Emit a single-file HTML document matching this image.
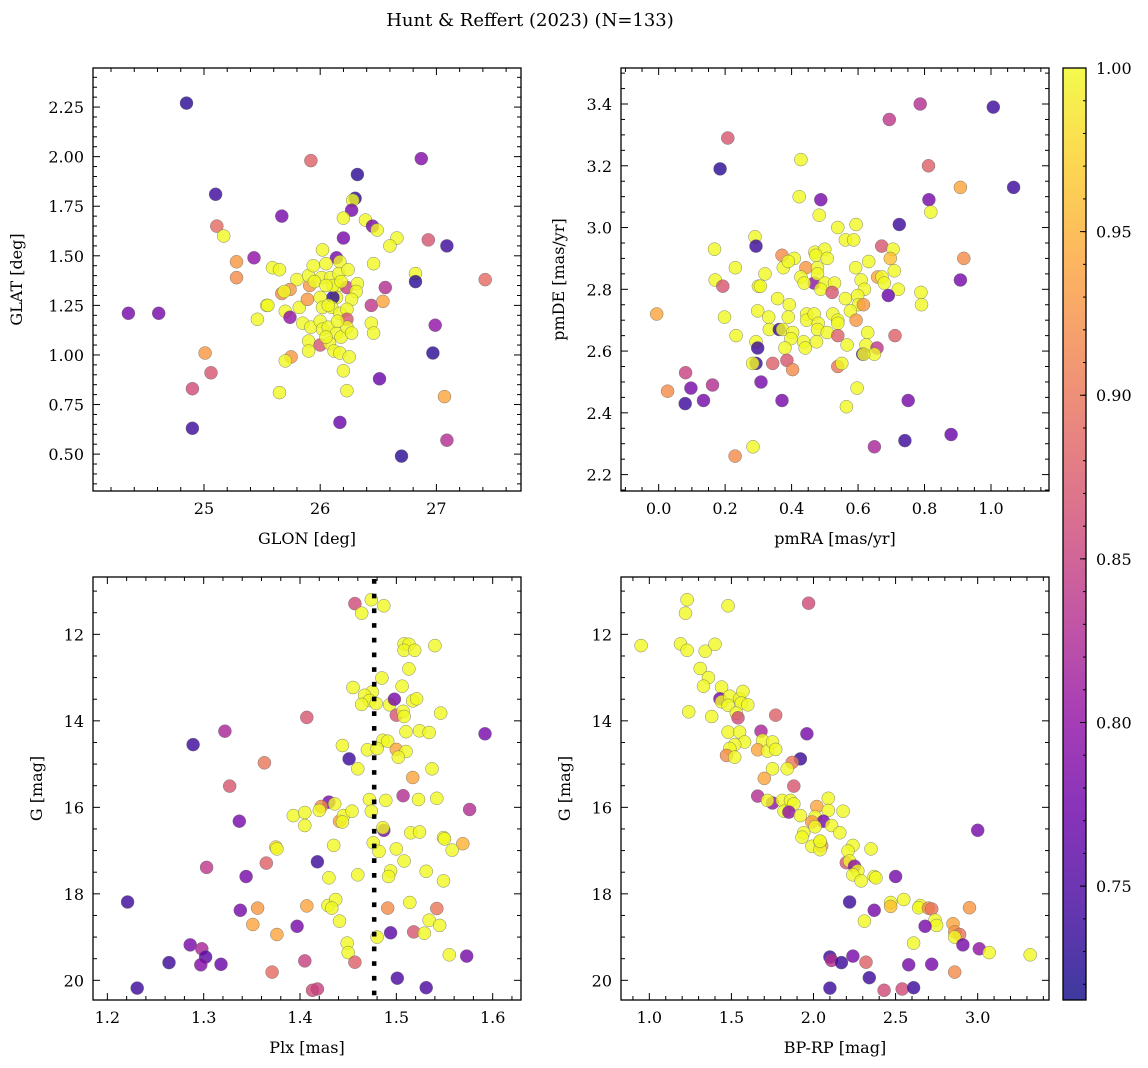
<!DOCTYPE html>
<html><head><meta charset="utf-8"><title>Hunt & Reffert (2023)</title>
<style>
html,body{margin:0;padding:0;background:#fff;}
svg{display:block;font-family:"DejaVu Serif","Liberation Serif",serif;}
</style></head>
<body>
<svg id="fig" width="1148" height="1068" viewBox="0 0 1148 1068" xmlns="http://www.w3.org/2000/svg">
<defs>
<linearGradient id="plasma" x1="0" y1="1" x2="0" y2="0">
<stop offset="0" stop-color="#0d0887"/><stop offset="0.1" stop-color="#41049d"/><stop offset="0.2" stop-color="#6a00a8"/><stop offset="0.3" stop-color="#8f0da4"/><stop offset="0.4" stop-color="#b12a90"/><stop offset="0.5" stop-color="#cc4778"/><stop offset="0.6" stop-color="#e16462"/><stop offset="0.7" stop-color="#f2844b"/><stop offset="0.8" stop-color="#fca636"/><stop offset="0.9" stop-color="#fcce25"/><stop offset="1" stop-color="#f0f921"/>
</linearGradient>
</defs>
<text x="530" y="26" font-size="18" text-anchor="middle">Hunt &amp; Reffert (2023) (N=133)</text>
</svg>
<script>
// ---- Panel 1: GLON vs GLAT ----
const p1Glon=[24.85,25.10,25.67,25.92,26.32,26.87,26.30,26.28,26.27,26.20,26.39,26.45,26.49,26.20,26.66,26.60,26.93,27.09,25.11,25.17,25.28,25.28,25.43,24.35,24.61,25.59,25.65,25.80,25.67,25.74,25.69,25.54,25.55,25.46,25.70,25.74,25.82,25.89,25.91,26.02,26.14,26.17,25.90,25.94,26.05,26.01,26.09,26.16,26.24,26.15,26.23,26.32,26.31,26.14,26.27,26.11,26.00,26.02,26.10,26.07,26.17,26.23,26.23,25.85,25.92,26.00,26.02,26.07,26.14,26.18,26.23,26.27,25.90,26.00,26.08,25.90,26.12,26.17,26.25,25.75,25.70,26.20,25.65,26.23,26.46,26.56,26.44,26.54,26.44,26.46,26.82,26.82,27.42,26.99,26.97,26.51,27.07,27.09,26.17,26.70,24.90,25.01,25.06,24.90,26.05,26.15,25.95,26.11,26.18,26.05];
const p1Glat=[2.27,1.81,1.70,1.98,1.91,1.99,1.79,1.78,1.73,1.69,1.68,1.65,1.63,1.59,1.59,1.55,1.58,1.55,1.65,1.60,1.47,1.39,1.49,1.21,1.21,1.44,1.43,1.38,1.31,1.33,1.32,1.25,1.25,1.18,1.22,1.19,1.24,1.28,1.35,1.53,1.49,1.47,1.40,1.45,1.46,1.39,1.39,1.41,1.43,1.35,1.34,1.36,1.32,1.29,1.28,1.29,1.29,1.24,1.24,1.25,1.21,1.23,1.18,1.16,1.14,1.17,1.13,1.14,1.11,1.09,1.14,1.11,1.07,1.05,1.06,1.02,1.02,1.01,0.99,0.99,0.97,0.92,0.81,0.82,1.46,1.34,1.25,1.27,1.16,1.11,1.41,1.37,1.38,1.15,1.01,0.88,0.79,0.57,0.66,0.49,0.63,1.01,0.91,0.83,1.09,1.17,1.37,1.35,1.37,1.35];
const p1Prob=[0.73,0.74,0.78,0.88,0.73,0.79,0.73,1,0.78,1,1,0.78,1,0.78,1,1,0.87,0.74,0.89,1,0.93,0.92,0.80,0.78,0.78,1,1,1,0.92,0.93,1,1,1,1,1,0.80,1,0.93,0.93,1,0.78,1,1,1,1,1,1,1,1,1,0.85,1,1,1,1,0.73,1,1,1,1,1,1,0.87,1,1,1,1,1,1,1,1,1,1,0.87,1,1,1,1,1,0.93,1,1,1,1,1,0.83,0.84,0.94,1,1,1,0.73,0.89,0.80,0.73,0.77,0.94,0.83,0.77,0.73,0.74,0.93,0.87,0.86,1,1,1,1,1,1];

// ---- Panel 2: pmRA vs pmDE ----
const p2PmRA=[0.208,0.185,0.428,0.423,0.488,0.483,0.694,0.787,1.007,0.812,0.908,1.068,0.813,0.819,0.724,0.539,0.594,0.562,0.587,0.290,0.293,0.168,0.671,0.705,0.697,0.918,0.371,0.408,0.470,0.500,0.473,0.507,0.231,0.375,0.390,0.443,0.478,0.320,0.170,0.193,0.300,0.306,0.428,0.468,0.438,0.478,0.500,0.529,0.488,0.522,0.593,0.632,0.609,0.619,0.659,0.672,0.679,0.709,0.721,0.691,0.789,0.791,0.908,-0.006,0.198,0.298,0.358,0.393,0.331,0.390,0.445,0.445,0.468,0.562,0.599,0.601,0.616,0.577,0.524,0.539,0.539,0.594,0.480,0.478,0.507,0.233,0.333,0.363,0.373,0.403,0.398,0.629,0.711,0.539,0.567,0.293,0.298,0.380,0.436,0.441,0.475,0.624,0.614,0.657,0.649,0.617,0.293,0.283,0.343,0.386,0.403,0.539,0.551,0.081,0.027,0.097,0.162,0.135,0.080,0.308,0.371,0.597,0.565,0.751,0.880,0.741,0.649,0.284,0.230];
const p2PmDE=[3.29,3.19,3.22,3.10,3.09,3.04,3.35,3.40,3.39,3.20,3.13,3.13,3.09,3.05,3.01,3.00,3.01,2.96,2.96,2.97,2.94,2.93,2.94,2.93,2.90,2.90,2.91,2.90,2.92,2.93,2.91,2.90,2.87,2.87,2.89,2.87,2.87,2.85,2.83,2.81,2.81,2.81,2.84,2.82,2.82,2.85,2.82,2.82,2.80,2.79,2.87,2.89,2.83,2.80,2.84,2.84,2.82,2.86,2.80,2.78,2.79,2.75,2.83,2.72,2.71,2.73,2.77,2.75,2.71,2.71,2.72,2.70,2.72,2.77,2.78,2.75,2.75,2.73,2.72,2.70,2.69,2.70,2.69,2.67,2.66,2.65,2.67,2.67,2.67,2.66,2.64,2.66,2.65,2.65,2.62,2.63,2.61,2.61,2.63,2.61,2.63,2.62,2.59,2.61,2.59,2.59,2.56,2.56,2.56,2.57,2.54,2.55,2.56,2.53,2.47,2.48,2.49,2.44,2.43,2.50,2.44,2.48,2.42,2.44,2.33,2.31,2.29,2.29,2.26];
const p2Prob=[0.87,0.73,1,1,0.78,1,0.84,0.83,0.74,0.88,0.94,0.74,0.78,1,0.74,1,1,1,1,1,0.74,1,0.87,1,0.96,0.92,0.92,1,1,1,1,1,1,1,1,0.93,1,1,1,0.87,1,1,1,0.80,1,1,1,1,1,0.87,1,1,1,1,0.94,1,1,1,1,0.77,1,1,0.78,0.94,1,1,1,1,1,1,1,1,1,1,1,1,0.93,1,1,1,1,0.93,1,1,1,1,1,0.74,1,1,1,1,0.88,0.88,1,1,0.74,1,1,1,1,1,0.75,0.84,1,1,0.74,1,0.88,0.87,0.92,0.90,1,0.85,0.92,0.78,0.83,0.78,0.74,0.78,0.78,1,1,0.78,0.77,0.74,0.82,1,0.92];

// ---- Panel 3: Plx vs G ----
const p3Plx=[1.457,1.474,1.487,1.464,1.508,1.513,1.508,1.519,1.540,1.513,1.485,1.506,1.455,1.475,1.467,1.472,1.464,1.479,1.493,1.498,1.517,1.521,1.500,1.507,1.508,1.546,1.407,1.322,1.289,1.592,1.510,1.524,1.534,1.486,1.491,1.444,1.470,1.480,1.500,1.510,1.502,1.451,1.363,1.460,1.537,1.517,1.327,1.507,1.472,1.489,1.523,1.542,1.576,1.430,1.422,1.436,1.420,1.393,1.405,1.405,1.441,1.445,1.444,1.454,1.474,1.337,1.487,1.486,1.515,1.524,1.549,1.550,1.569,1.558,1.375,1.376,1.435,1.476,1.482,1.500,1.508,1.303,1.365,1.418,1.344,1.430,1.460,1.494,1.492,1.531,1.549,1.221,1.338,1.356,1.407,1.429,1.437,1.433,1.441,1.491,1.514,1.542,1.534,1.545,1.351,1.376,1.397,1.494,1.518,1.529,1.480,1.286,1.298,1.302,1.297,1.264,1.318,1.449,1.450,1.457,1.405,1.371,1.555,1.573,1.501,1.531,1.231,1.413,1.418];
const p3G=[11.29,11.20,11.34,11.51,12.22,12.23,12.37,12.37,12.26,12.80,13.01,13.20,13.23,13.33,13.41,13.53,13.62,13.60,13.63,13.50,13.54,13.49,13.87,13.78,13.90,13.82,13.92,14.24,14.55,14.30,14.25,14.23,14.27,14.45,14.47,14.57,14.67,14.64,14.66,14.71,14.84,14.88,14.97,15.11,15.11,15.31,15.51,15.73,15.82,15.84,15.82,15.79,16.05,15.88,15.98,15.92,16.07,16.19,16.12,16.42,16.32,16.19,16.34,16.09,16.09,16.32,16.53,16.47,16.59,16.57,16.70,16.73,16.84,16.99,16.92,16.96,16.88,16.82,17.02,16.96,17.24,17.39,17.29,17.26,17.60,17.63,17.56,17.47,17.60,17.48,17.70,18.19,18.38,18.33,18.28,18.27,18.13,18.33,18.63,18.33,18.20,18.34,18.61,18.73,18.71,18.94,18.75,18.90,18.88,18.91,19.00,19.18,19.27,19.46,19.64,19.59,19.63,19.14,19.36,19.58,19.55,19.81,19.41,19.44,19.95,20.17,20.18,20.23,20.20];
const p3Prob=[0.86,1,1,1,1,1,1,1,1,1,1,1,1,1,1,1,1,1,1,0.78,1,1,0.87,1,1,1,0.87,0.82,0.74,0.78,1,1,1,1,1,1,1,1,0.94,1,1,0.74,0.90,1,1,0.94,0.87,0.83,1,1,1,1,0.83,0.78,0.92,1,1,1,1,1,0.94,1,1,1,1,0.78,0.78,1,1,1,1,1,0.95,1,0.98,1,1,1,1,1,1,0.84,0.88,0.74,0.78,1,1,1,1,1,1,0.74,0.78,0.93,0.94,1,1,1,1,0.92,1,0.90,1,1,0.94,0.94,0.78,0.76,0.87,1,1,0.78,0.82,0.76,0.79,0.74,0.77,1,1,0.88,0.85,0.89,1,0.78,0.75,0.75,0.74,0.86,0.85];

// ---- Panel 4: BP-RP vs G ----
const p4BpRp=[1.23,1.22,1.48,1.97,0.95,1.19,1.23,1.34,1.40,1.31,1.36,1.33,1.44,1.43,1.44,1.49,1.48,1.55,1.57,1.56,1.60,1.53,1.54,1.24,1.38,1.77,1.68,1.69,1.96,1.48,1.55,1.58,1.52,1.49,1.47,1.52,1.66,1.72,1.75,1.77,1.92,1.87,1.84,1.75,1.70,1.88,1.66,1.75,1.72,1.81,1.86,1.88,1.82,1.85,1.92,2.02,2.09,2.09,2.18,2.01,2.06,1.99,2.01,2.11,2.16,1.94,1.93,1.99,2.05,2.04,2.04,2.04,2.24,2.21,2.35,2.20,2.22,2.25,2.27,2.24,2.29,2.37,2.38,2.50,3.00,2.22,2.37,2.31,2.47,2.47,2.55,2.65,2.64,2.70,2.72,2.95,2.74,2.75,2.68,2.85,2.86,2.89,2.86,2.91,2.61,3.01,3.07,3.32,2.10,2.11,2.17,2.24,2.32,2.58,2.72,2.86,2.34,2.10,2.43,2.54,2.61];
const p4G=[11.20,11.51,11.34,11.28,12.26,12.22,12.37,12.39,12.23,12.79,13.00,13.20,13.22,13.49,13.56,13.43,13.64,13.49,13.32,13.59,13.63,13.82,13.93,13.79,13.90,13.87,14.24,14.45,14.30,14.26,14.26,14.49,14.55,14.64,14.80,14.84,14.67,14.70,14.49,14.66,14.88,14.96,15.11,15.11,15.33,15.51,15.74,15.90,15.84,15.84,15.84,15.92,16.09,16.11,16.19,15.98,15.79,16.07,16.09,16.22,16.32,16.34,16.45,16.42,16.59,16.59,16.69,16.90,16.89,16.80,16.98,16.78,16.88,17.01,16.96,17.28,17.24,17.36,17.47,17.56,17.70,17.60,17.63,17.60,16.53,18.19,18.38,18.63,18.20,18.29,18.13,18.27,18.32,18.33,18.35,18.32,18.61,18.73,18.75,18.69,18.88,18.94,19.00,19.18,19.14,19.27,19.36,19.41,19.46,19.54,19.59,19.44,19.58,19.64,19.63,19.81,19.94,20.18,20.23,20.20,20.17];
const p4Prob=[1,1,1,0.86,1,1,1,1,1,1,1,1,1,0.78,1,1,1,1,1,1,1,1,0.86,1,1,0.88,0.82,1,0.78,1,1,1,1,1,0.92,1,0.94,1,1,1,0.74,0.90,1,1,0.94,0.87,0.83,0.80,1,1,1,1,1,0.80,1,0.94,1,1,1,1,0.78,0.93,1,1,1,1,1,1,0.94,1,1,1,1,1,1,0.87,1,0.80,1,1,1,1,1,0.78,0.78,0.74,0.78,1,1,0.96,1,1,1,0.92,0.90,0.93,1,1,0.78,0.94,0.93,0.90,1,0.78,1,0.80,1,1,0.74,0.83,0.74,0.78,0.88,0.78,0.78,0.92,0.74,0.74,0.86,0.86,0.74];

// tick arrays
const p1XTicks=[25,26,27], p1YTicks=[0.50,0.75,1.00,1.25,1.50,1.75,2.00,2.25];
const p2XTicks=[0.0,0.2,0.4,0.6,0.8,1.0], p2YTicks=[2.2,2.4,2.6,2.8,3.0,3.2,3.4];
const p3XTicks=[1.2,1.3,1.4,1.5,1.6], gTicks=[12,14,16,18,20];
const p4XTicks=[1.0,1.5,2.0,2.5,3.0];
const cbTicks=[0.75,0.80,0.85,0.90,0.95,1.00];
const plxCut=[1.477];
const probMin=0.7152, probMax=1.0;

const NS='http://www.w3.org/2000/svg';
const svg=document.getElementById('fig');
function mk(tag,attrs,parent){const e=document.createElementNS(NS,tag);for(const k in attrs)e.setAttribute(k,attrs[k]);(parent||svg).appendChild(e);return e;}
const stops=['#0d0887','#41049d','#6a00a8','#8f0da4','#b12a90','#cc4778','#e16462','#f2844b','#fca636','#fcce25','#f0f921'];
function hex(h){return [parseInt(h.substr(1,2),16),parseInt(h.substr(3,2),16),parseInt(h.substr(5,2),16)];}
function plasma(v){let t=(v-probMin)/(probMax-probMin);t=Math.max(0,Math.min(1,t));const f=t*10,i=Math.min(9,Math.floor(f)),r=f-i;const a=hex(stops[i]),b=hex(stops[i+1]);return 'rgb('+a.map((x,k)=>Math.round(x+(b[k]-x)*r)).join(',')+')';}

function panel(cfg){
  const {x0,y0,w,h,xmin,xmax,ymin,ymax,inv,name}=cfg;
  const sx=v=>x0+(v-xmin)/(xmax-xmin)*w;
  const sy=inv?(v=>y0+(v-ymin)/(ymax-ymin)*h):(v=>y0+h-(v-ymin)/(ymax-ymin)*h);
  const g=mk('g',{});
  
  
  const pts=mk('g',{},g);
  
  
  for(let i=0;i<cfg.xs.length;i++){
    const c=mk('circle',{cx:sx(cfg.xs[i]).toFixed(1),cy:sy(cfg.ys[i]).toFixed(1),r:6.5,fill:plasma(cfg.cs[i]),'fill-opacity':0.8,stroke:'#666','stroke-width':0.5,'stroke-opacity':0.8},pts);
    
    
  }
  if(cfg.vline){
    for(const v of cfg.vline){
      const l=mk('line',{x1:sx(v),x2:sx(v),y1:y0+2,y2:y0+h,stroke:'#000','stroke-width':4.5,'stroke-dasharray':'4.7 10'},g);
      
      
    }
  }
  // ticks
  const tk=mk('g',{stroke:'#000','stroke-width':1},g);
  
  
  const xMinorStep=cfg.xMinor, yMinorStep=cfg.yMinor;
  for(let v=Math.ceil(xmin/xMinorStep)*xMinorStep;v<=xmax;v+=xMinorStep){
    const X=sx(v);const major=cfg.xt.some(t=>Math.abs(t-v)<1e-6)||Math.abs(((v/cfg.xMajor)-Math.round(v/cfg.xMajor)))<1e-6;const L=major?7:4;
    mk('line',{x1:X,x2:X,y1:y0+h,y2:y0+h-L},tk);mk('line',{x1:X,x2:X,y1:y0,y2:y0+L},tk);
  }
  for(let v=Math.ceil(ymin/yMinorStep)*yMinorStep;v<=ymax;v+=yMinorStep){
    const Y=sy(v);const major=Math.abs(((v/cfg.yMajor)-Math.round(v/cfg.yMajor)))<1e-6;const L=major?7:4;
    mk('line',{x1:x0,x2:x0+L,y1:Y,y2:Y},tk);mk('line',{x1:x0+w,x2:x0+w-L,y1:Y,y2:Y},tk);
  }
  const fr=mk('rect',{x:x0,y:y0,width:w,height:h,fill:'none',stroke:'#000','stroke-width':1.3},g);
  
  
  const xl=mk('g',{'font-size':16,'text-anchor':'middle'},g);
  
  
  cfg.xt.forEach(v=>{const t=mk('text',{x:sx(v),y:y0+h+23},xl);t.textContent=v.toFixed(cfg.xd);});
  const yl=mk('g',{'font-size':16,'text-anchor':'end'},g);
  
  
  cfg.yt.forEach(v=>{const t=mk('text',{x:x0-9,y:sy(v)+6},yl);t.textContent=v.toFixed(cfg.yd);});
  const xt=mk('text',{x:x0+w/2,y:y0+h+53,'font-size':16,'text-anchor':'middle'},g);
  xt.textContent=cfg.xlabel;
  
  
  const yt=mk('text',{x:0,y:0,'font-size':16,'text-anchor':'middle',transform:'translate('+(cfg.ylx)+','+(y0+h/2)+') rotate(-90)'},g);
  yt.textContent=cfg.ylabel;
  
  
}

panel({name:'glon-glat',x0:93,y0:68,w:428,h:423,xmin:24.045,xmax:27.728,ymin:0.314,ymax:2.447,inv:false,xs:p1Glon,ys:p1Glat,cs:p1Prob,xt:p1XTicks,yt:p1YTicks,xd:0,yd:2,xMinor:0.2,xMajor:1,yMinor:0.05,yMajor:0.25,xlabel:'GLON [deg]',ylabel:'GLAT [deg]',ylx:22});
panel({name:'proper-motion',x0:621,y0:68,w:428,h:423,xmin:-0.1133,xmax:1.1745,ymin:2.1469,ymax:3.5166,inv:false,xs:p2PmRA,ys:p2PmDE,cs:p2Prob,xt:p2XTicks,yt:p2YTicks,xd:1,yd:1,xMinor:0.05,xMajor:0.2,yMinor:0.05,yMajor:0.2,xlabel:'pmRA [mas/yr]',ylabel:'pmDE [mas/yr]',ylx:564});
panel({name:'parallax-mag',x0:93,y0:577,w:428,h:423,xmin:1.1851,xmax:1.6294,ymin:10.674,ymax:20.455,inv:true,xs:p3Plx,ys:p3G,cs:p3Prob,xt:p3XTicks,yt:gTicks,xd:1,yd:0,xMinor:0.02,xMajor:0.1,yMinor:0.5,yMajor:2,xlabel:'Plx [mas]',ylabel:'G [mag]',ylx:42,vline:plxCut});
panel({name:'color-magnitude',x0:621,y0:577,w:428,h:423,xmin:0.8274,xmax:3.4345,ymin:10.674,ymax:20.455,inv:true,xs:p4BpRp,ys:p4G,cs:p4Prob,xt:p4XTicks,yt:gTicks,xd:1,yd:0,xMinor:0.1,xMajor:0.5,yMinor:0.5,yMajor:2,xlabel:'BP-RP [mag]',ylabel:'G [mag]',ylx:570});

// colorbar
(function(){
  const cx=1063,cy=68,cw=23,ch=932;
  const cb=mk('g',{});
  
  
  const sy=v=>cy+ch-(v-probMin)/(probMax-probMin)*ch;
  const r=mk('rect',{x:cx,y:cy,width:cw,height:ch,fill:'url(#plasma)','fill-opacity':0.8},cb);
  
  
  for(let v=0.72;v<=1.0001;v+=0.01){const Y=sy(v);mk('line',{x1:cx+cw,x2:cx+cw-3,y1:Y,y2:Y,stroke:'#000','stroke-width':1},cb);}
  const fr=mk('rect',{x:cx,y:cy,width:cw,height:ch,fill:'none',stroke:'#000','stroke-width':1.3},cb);
  
  
  cbTicks.forEach(v=>{const Y=sy(v);mk('line',{x1:cx+cw,x2:cx+cw-6,y1:Y,y2:Y,stroke:'#000','stroke-width':1},cb);
    const t=mk('text',{x:cx+cw+10,y:Y+6,'font-size':16},cb);t.textContent=v.toFixed(2);
    
    });
})();
</script>
</body></html>
